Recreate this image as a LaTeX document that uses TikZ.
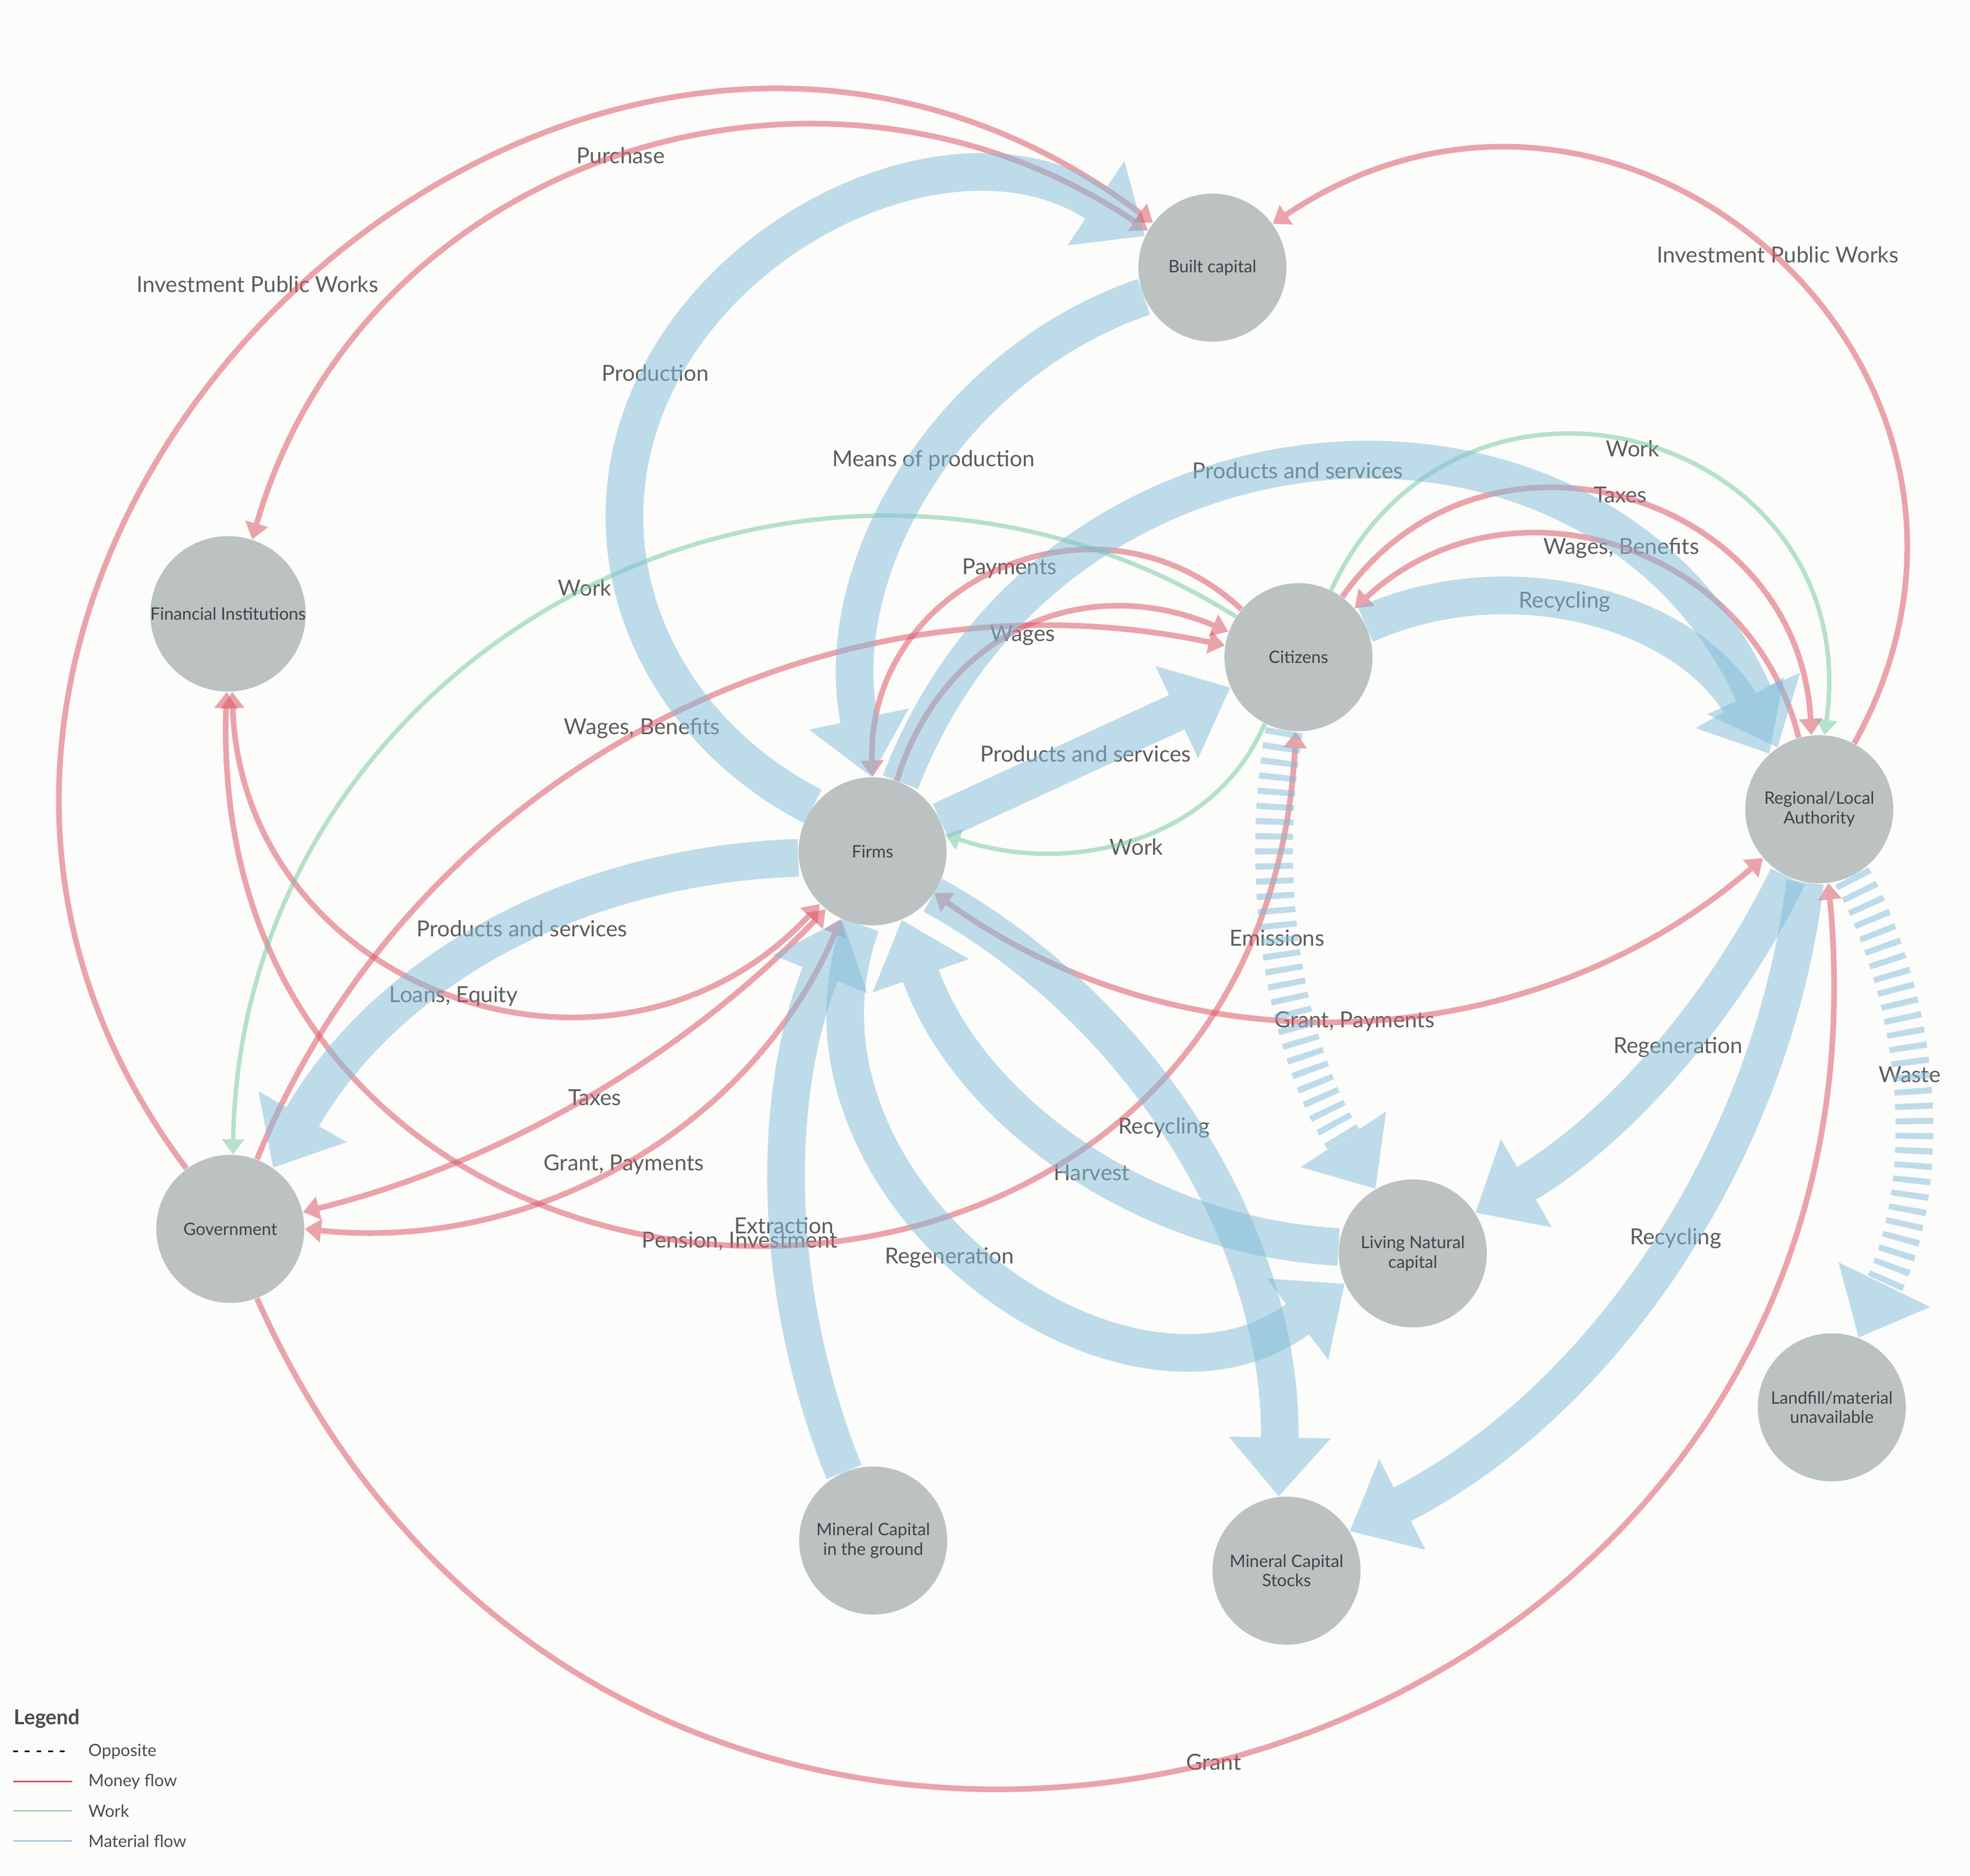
\documentclass[tikz,border=0pt]{standalone}
\usepackage{fontspec}
\setmainfont{Lato}
\usetikzlibrary{arrows.meta}
\definecolor{bgc}{RGB}{252,252,250}
\definecolor{nodec}{RGB}{187,194,193}
\definecolor{nodetxt}{RGB}{62,68,70}
\definecolor{labc}{RGB}{92,92,92}
\definecolor{moneyc}{RGB}{220,90,105}
\definecolor{workc}{RGB}{110,200,155}
\definecolor{matc}{RGB}{130,188,218}
\definecolor{legred}{RGB}{212,86,100}
\definecolor{leggreen}{RGB}{125,198,165}
\definecolor{legblue}{RGB}{135,185,215}
\definecolor{legtxt}{RGB}{75,75,75}
\pgfdeclarelayer{bgl}
\pgfdeclarelayer{labels}
\pgfdeclarelayer{fg}
\pgfsetlayers{bgl,labels,main,fg}
\newcommand{\flowpath}[3]{\begin{scope}[transparency group, opacity=#1]\draw[#2] #3;\end{scope}}
\tikzset{
  stock/.style={circle, fill=nodec, minimum size=58.9pt, inner sep=0pt, text=nodetxt, align=center, font=\fontsize{6.8}{7.8}\selectfont},
  lab/.style={font=\fontsize{8.8}{10}\selectfont, text=labc, inner sep=0pt, text height=6.3pt, text depth=0pt},
  money/.style={draw=moneyc, line width=2.25pt, -{Triangle[length=6.5pt,width=9pt]}},
  money2/.style={money, {Triangle[length=6.5pt,width=9pt]}-{Triangle[length=6.5pt,width=9pt]}},
  workf/.style={draw=workc, line width=1.75pt, -{Triangle[length=6pt,width=8.5pt]}},
  matf/.style={draw=matc, line width=15pt, -{Triangle[length=23.5pt,width=39pt]}},
  matd/.style={matf, dash pattern=on 2.4pt off 3.5pt},
  legline/.style={line width=0.6pt},
  legt/.style={font=\fontsize{6.7}{7.5}\selectfont, text=legtxt, anchor=west, inner sep=0pt},
}
\begin{document}
\begin{tikzpicture}[x=0.5pt,y=0.5pt]
\begin{pgfonlayer}{bgl}
\fill[bgc] (0,0) rectangle (1568,-1493);
\end{pgfonlayer}
\useasboundingbox (0,0) rectangle (1568,-1493);

% nodes
\begin{pgfonlayer}{fg}
\node[stock] (bc) at (965,-213) {Built capital};
\node[stock] (fi) at (181.5,-488.5) {Financial Institutions};
\node[stock] (ci) at (1033.5,-523) {Citizens};
\node[stock] (fm) at (694.5,-677.5) {Firms};
\node[stock] (ra) at (1448,-644) {Regional/Local\\Authority};
\node[stock] (go) at (183.3,-978) {Government};
\node[stock] (ln) at (1124.5,-997.5) {Living Natural\\capital};
\node[stock] (lf) at (1458,-1120) {Landfill/material\\unavailable};
\node[stock] (ms) at (1024,-1250) {Mineral Capital\\Stocks};
\node[stock] (mg) at (695,-1226) {Mineral Capital\\in the ground};
\end{pgfonlayer}
\coordinate (prodw) at (497,-411);

% labels
\begin{pgfonlayer}{labels}
\node[lab] (l01) at (205,-226.5) {Investment Public Works};
\node[lab] (l02) at (494,-124) {Purchase};
\node[lab] (l03) at (1415,-202.7) {Investment Public Works};
\node[lab] (l04) at (521.6,-297) {Production};
\node[lab] (l05) at (743,-365) {Means of production};
\node[lab] (l06) at (1299.5,-357) {Work};
\node[lab] (l07) at (1032.8,-374.4) {Products and services};
\node[lab] (l08) at (1289.7,-393.6) {Taxes};
\node[lab] (l09) at (1290.4,-434.7) {Wages, Benefits};
\node[lab] (l10) at (803.5,-451) {Payments};
\node[lab] (l11) at (465.5,-468) {Work};
\node[lab] (l12) at (1245.4,-477.5) {Recycling};
\node[lab] (l13) at (814,-504) {Wages};
\node[lab] (l14) at (511,-578) {Wages, Benefits};
\node[lab] (l15) at (864,-600) {Products and services};
\node[lab] (l16) at (904.5,-674) {Work};
\node[lab] (l17) at (415.5,-739.3) {Products and services};
\node[lab] (l18) at (1016.5,-746.5) {Emissions};
\node[lab] (l19) at (361,-791.5) {Loans, Equity};
\node[lab] (l20) at (1078,-811.6) {Grant, Payments};
\node[lab] (l21) at (1335.7,-832) {Regeneration};
\node[lab] (l22) at (1520,-855) {Waste};
\node[lab] (l23) at (473.4,-873.6) {Taxes};
\node[lab] (l24) at (926.7,-896) {Recycling};
\node[lab] (l25) at (496.6,-925.4) {Grant, Payments};
\node[lab] (l26) at (869,-933) {Harvest};
\node[lab] (l27) at (624,-975.4) {Extraction};
\node[lab] (l28) at (588.8,-986.7) {Pension, Investment};
\node[lab] (l29) at (1333.7,-984.1) {Recycling};
\node[lab] (l30) at (755.8,-999.2) {Regeneration};
\node[lab] (l31) at (966,-1402.5) {Grant};
\end{pgfonlayer}

% money flows
\flowpath{0.55}{money}{(go.126) to[out=127, in=143, looseness=1.4] (bc.143)}
\flowpath{0.55}{money2}{(fi.72) to[out=74, in=146, looseness=1.07] (bc.150)}
\flowpath{0.55}{money}{(ra.62) to[out=61, in=34, looseness=1.39] (bc.36)}
\flowpath{0.55}{money}{(ci.140) to[out=137, in=92, looseness=1.23] (fm.90)}
\flowpath{0.55}{money}{(fm.71) to[out=73, in=157, looseness=1.1] (ci.160)}
\flowpath{0.55}{money}{(go.69) to[out=68, in=168, looseness=0.96] (ci.171)}
\flowpath{0.55}{money2}{(fm.-34) to[out=-36, in=221, looseness=0.95] (ra.221)}
\flowpath{0.55}{money}{(ci.54) to[out=55, in=93, looseness=1.28] (ra.96)}
\flowpath{0.55}{money}{(ra.106) to[out=104, in=43, looseness=1.13] (ci.41)}
\flowpath{0.55}{money2}{(fi.-87) to[out=-88, in=227, looseness=1.23] (fm.225)}
\flowpath{0.55}{money2}{(fi.-91) to[out=-92, in=267, looseness=1.69] (ci.-92)}
\flowpath{0.55}{money2}{(go.13) to[out=14, in=226, looseness=0.87] (fm.231)}
\flowpath{0.55}{money2}{(go.0) to[out=-6, in=247, looseness=0.945] (fm.245)}
\flowpath{0.55}{money}{(go.-69) to[out=-66, in=-84.5, looseness=1.47] (ra.-83)}

% work
\flowpath{0.5}{workf}{(ci.64) to[out=65, in=82, looseness=1.52] (ra.86)}
\flowpath{0.5}{workf}{(ci.-117) to[out=-113, in=-19, looseness=0.98] (fm.13)}
\flowpath{0.5}{workf}{(ci.147) to[out=148, in=89, looseness=1.14] (go.88)}

% material flows
\flowpath{0.5}{matf}{(fm.143) to[out=153, in=-90, looseness=0.92] (prodw) to[out=90, in=146, looseness=1.08] (bc.155)}
\flowpath{0.5}{matf}{(bc.-157) to[out=199, in=102, looseness=0.97] (fm.91)}
\flowpath{0.5}{matf}{(fm.24.6) -- (ci.204.4)}
\flowpath{0.5}{matf}{(fm.68) to[out=69, in=114, looseness=1.25] (ra.124)}
\flowpath{0.5}{matf}{(ci.26) to[out=24, in=120, looseness=0.98] (ra.132)}
\flowpath{0.5}{matf}{(fm.185) to[out=182, in=60, looseness=0.95] (go.55)}
\flowpath{0.5}{matf}{(ra.245) to[out=-116, in=30, looseness=0.87] (ln.33)}
\flowpath{0.5}{matf}{(ra.259) to[out=-97, in=27, looseness=0.9] (ms.32)}
\flowpath{0.5}{matd}{(ra.-64) to[out=-62, in=64, looseness=0.9] (lf.69)}
\flowpath{0.5}{matd}{(ci.-101) to[out=-100, in=123, looseness=0.88] (ln.120)}
\flowpath{0.5}{matf}{(ln.175) to[out=177, in=-71, looseness=0.93] (fm.-67)}
\flowpath{0.5}{matf}{(fm.-99) to[out=250, in=217, looseness=1.18] (ln.204)}
\flowpath{0.5}{matf}{(fm.-36) to[out=-29, in=89, looseness=0.92] (ms.96)}
\flowpath{0.5}{matf}{(mg.113) to[out=112, in=248, looseness=0.89] (fm.246)}

% legend
\node[font=\fontsize{8.2}{9}\selectfont\bfseries, text=legtxt, anchor=west, inner sep=0pt] (legtitle) at (10.7,-1367.7) {Legend};
\coordinate (la1) at (10.4,-1393.9); \coordinate (la2) at (55,-1393.9);
\coordinate (lb1) at (10.4,-1417.8); \coordinate (lb2) at (57.4,-1417.8);
\coordinate (lc1) at (10.4,-1441.1); \coordinate (lc2) at (57.4,-1441.1);
\coordinate (ld1) at (10.4,-1465.1); \coordinate (ld2) at (57.4,-1465.1);
\draw[legline, black, dash pattern=on 1.9pt off 2.75pt] (la1) -- (la2);
\draw[legline, legred] (lb1) -- (lb2);
\draw[legline, leggreen] (lc1) -- (lc2);
\draw[legline, legblue] (ld1) -- (ld2);
\node[legt] (lt1) at (70,-1393.9) {Opposite};
\node[legt] (lt2) at (70,-1417.8) {Money flow};
\node[legt] (lt3) at (70,-1441.1) {Work};
\node[legt] (lt4) at (70,-1465.1) {Material flow};
\end{tikzpicture}
\end{document}
